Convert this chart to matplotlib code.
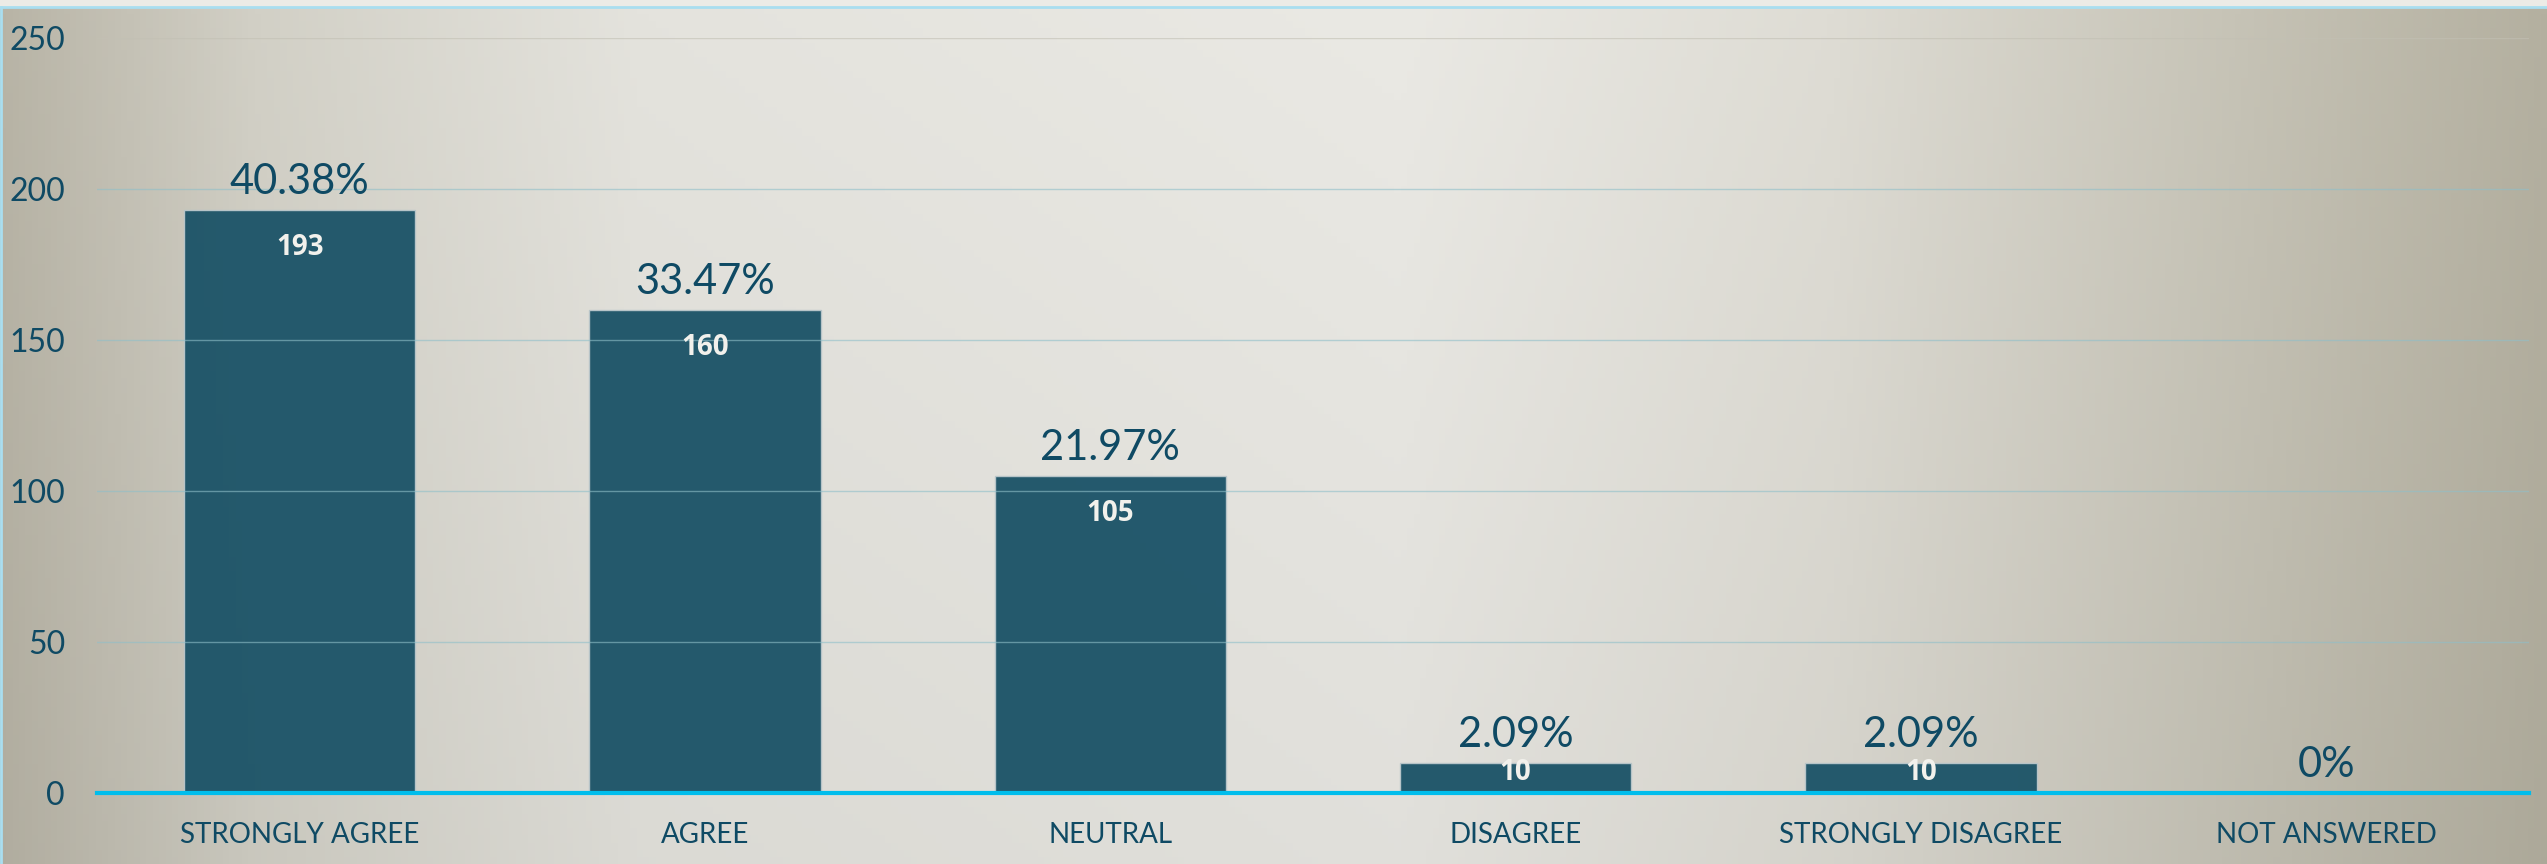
import numpy as np
import matplotlib
matplotlib.use("Agg")
import matplotlib.pyplot as plt
from matplotlib.lines import Line2D

plt.rcParams['font.family'] = ['Lato', 'DejaVu Sans']

categories = ['STRONGLY AGREE', 'AGREE', 'NEUTRAL', 'DISAGREE',
              'STRONGLY DISAGREE', 'NOT ANSWERED']
counts = [193, 160, 105, 10, 10, 0]
pct_labels = ['40.38%', '33.47%', '21.97%', '2.09%', '2.09%', '0%']
yticks = [0, 50, 100, 150, 200, 250]

text_color = '#0f4a64'
bar_color = '#1e5569'

W, H = 2547, 864
fig = plt.figure(figsize=(W / 100, H / 100), dpi=100, facecolor='#ecebe6')

# background gradient (light in the middle, darker tan at the edges)
top_frac = (H - 7) / H
bg = fig.add_axes([0, 0, 1, top_frac], zorder=0)
nx, ny = 400, 120
xs = np.linspace(0, 1, nx)
ys = np.linspace(0, 1, ny)
stops_x = [0.0, 0.1, 0.25, 0.55, 0.72, 0.88, 1.0]
stops_c = np.array([[184, 180, 166], [210, 208, 198], [228, 227, 221],
                    [234, 233, 228], [222, 220, 212], [198, 195, 182],
                    [180, 176, 160]]) / 255.0
row = np.stack([np.interp(xs, stops_x, stops_c[:, k]) for k in range(3)], axis=-1)
shade = 1.0 - 0.04 * ys[:, None, None]
img = np.clip(row[None, :, :] * shade, 0, 1)
bg.imshow(img, aspect='auto', extent=[0, 1, 0, 1], origin='upper')
bg.set_xlim(0, 1)
bg.set_ylim(0, 1)
bg.axis('off')
fig.add_artist(Line2D([0, 1], [top_frac, top_frac], transform=fig.transFigure,
                      color='#a9def0', lw=2))
fig.add_artist(Line2D([0.0004, 0.0004], [0, top_frac], transform=fig.transFigure,
                      color='#a9def0', lw=2))

ax = fig.add_axes([97 / W, 71 / H, 2432 / W, 755 / H], zorder=1)
ax.set_facecolor('none')

x = np.arange(len(categories))
ax.bar(x, counts, width=0.57, color=bar_color, alpha=0.97,
       edgecolor='#b9c6ca', linewidth=1, zorder=2)

for i, v in enumerate(counts):
    ax.annotate(pct_labels[i], (i, v), xytext=(0, 11.5), textcoords='offset points',
                ha='center', va='baseline', fontsize=30, color=text_color, zorder=4)
    if v > 0:
        # inside-end label; short bars get it pushed down onto the bar top
        off = -27 if v > 22 else -7
        ax.annotate(str(v), (i, v), xytext=(0, off), textcoords='offset points',
                    ha='center', va='center', fontsize=20, fontweight='bold',
                    family=['Open Sans', 'DejaVu Sans'],
                    color='#f2f1ec', zorder=4)

ax.set_xlim(-0.5, len(categories) - 0.5)
ax.set_ylim(0, 250)
ax.set_yticks(yticks)
for t in yticks[1:]:
    c = '#c2c0b4' if t == 250 else '#8fbfc9'
    ax.axhline(t, color=c, lw=1.0, zorder=3 if t < 250 else 1, alpha=0.6)

ax.set_xticks(x)
ax.set_xticklabels(categories)
ax.tick_params(axis='x', length=0, pad=21, labelsize=20, labelcolor=text_color)
ax.tick_params(axis='y', length=0, pad=23, labelsize=23, labelcolor=text_color)

for s in ['top', 'right', 'left']:
    ax.spines[s].set_visible(False)
ax.spines['bottom'].set_color('#00bdec')
ax.spines['bottom'].set_linewidth(3)
ax.spines['bottom'].set_zorder(5)

fig.savefig('out.png', dpi=100)
